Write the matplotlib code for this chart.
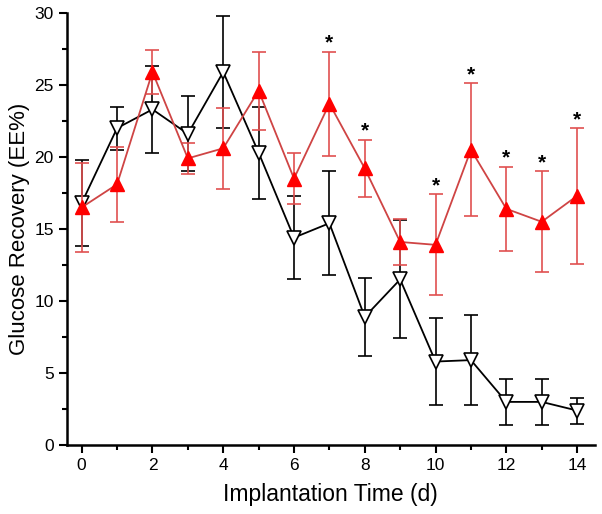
import numpy as np
import matplotlib
matplotlib.use('Agg')
import matplotlib.pyplot as plt
from matplotlib.ticker import MultipleLocator

plt.rcParams['font.family'] = ['Liberation Sans', 'DejaVu Sans']

days = np.arange(0, 15)

# open triangles (black)
ctrl_mean = [16.8, 22.0, 23.3, 21.6, 25.9, 20.3, 14.4, 15.4, 8.9, 11.5, 5.8, 5.9, 3.0, 3.0, 2.4]
ctrl_err = [3.0, 1.5, 3.0, 2.6, 3.9, 3.2, 2.9, 3.6, 2.7, 4.1, 3.0, 3.1, 1.6, 1.6, 0.9]

# filled triangles (red)
trt_mean = [16.5, 18.1, 25.9, 19.9, 20.6, 24.6, 18.5, 23.7, 19.2, 14.1, 13.9, 20.5, 16.4, 15.5, 17.3]
trt_err = [3.1, 2.6, 1.5, 1.1, 2.8, 2.7, 1.8, 3.6, 2.0, 1.6, 3.5, 4.6, 2.9, 3.5, 4.7]

star_days = [7, 8, 10, 11, 12, 13, 14]

fig = plt.figure(figsize=(6.02, 5.14), dpi=100)
ax = fig.add_axes([0.111, 0.134, 0.877, 0.841])

ax.errorbar(days, ctrl_mean, yerr=ctrl_err, color='black', lw=1.3,
            marker='v', ms=9.5, mfc='white', mec='black', mew=1.2,
            ecolor='black', elinewidth=1.2, capsize=5, capthick=1.2, zorder=3)
ax.errorbar(days, trt_mean, yerr=trt_err, color='#cf4444', lw=1.3,
            marker='^', ms=9.5, mfc='#ff0000', mec='#ff0000',
            ecolor='#e05050', elinewidth=1.2, capsize=5, capthick=1.2, zorder=4)

for d in star_days:
    top = trt_mean[d] + trt_err[d]
    ax.text(d, top + 0.6, '*', ha='center', va='center', fontsize=15, fontweight='bold')

ax.set_xlim(-0.42, 14.5)
ax.set_ylim(0, 30)
ax.xaxis.set_major_locator(MultipleLocator(2))
ax.xaxis.set_minor_locator(MultipleLocator(1))
ax.yaxis.set_major_locator(MultipleLocator(5))
ax.yaxis.set_minor_locator(MultipleLocator(2.5))
ax.tick_params(which='both', direction='out', width=1.5)
ax.tick_params(which='major', length=6, labelsize=12.5)
ax.tick_params(which='minor', length=3.5)

for s in ['top', 'right']:
    ax.spines[s].set_visible(False)
for s in ['left', 'bottom']:
    ax.spines[s].set_linewidth(1.8)

ax.set_xlabel('Implantation Time (d)', fontsize=16.5, labelpad=7)
ax.set_ylabel('Glucose Recovery (EE%)', fontsize=16, labelpad=3)

fig.savefig('out.png', dpi=100)
